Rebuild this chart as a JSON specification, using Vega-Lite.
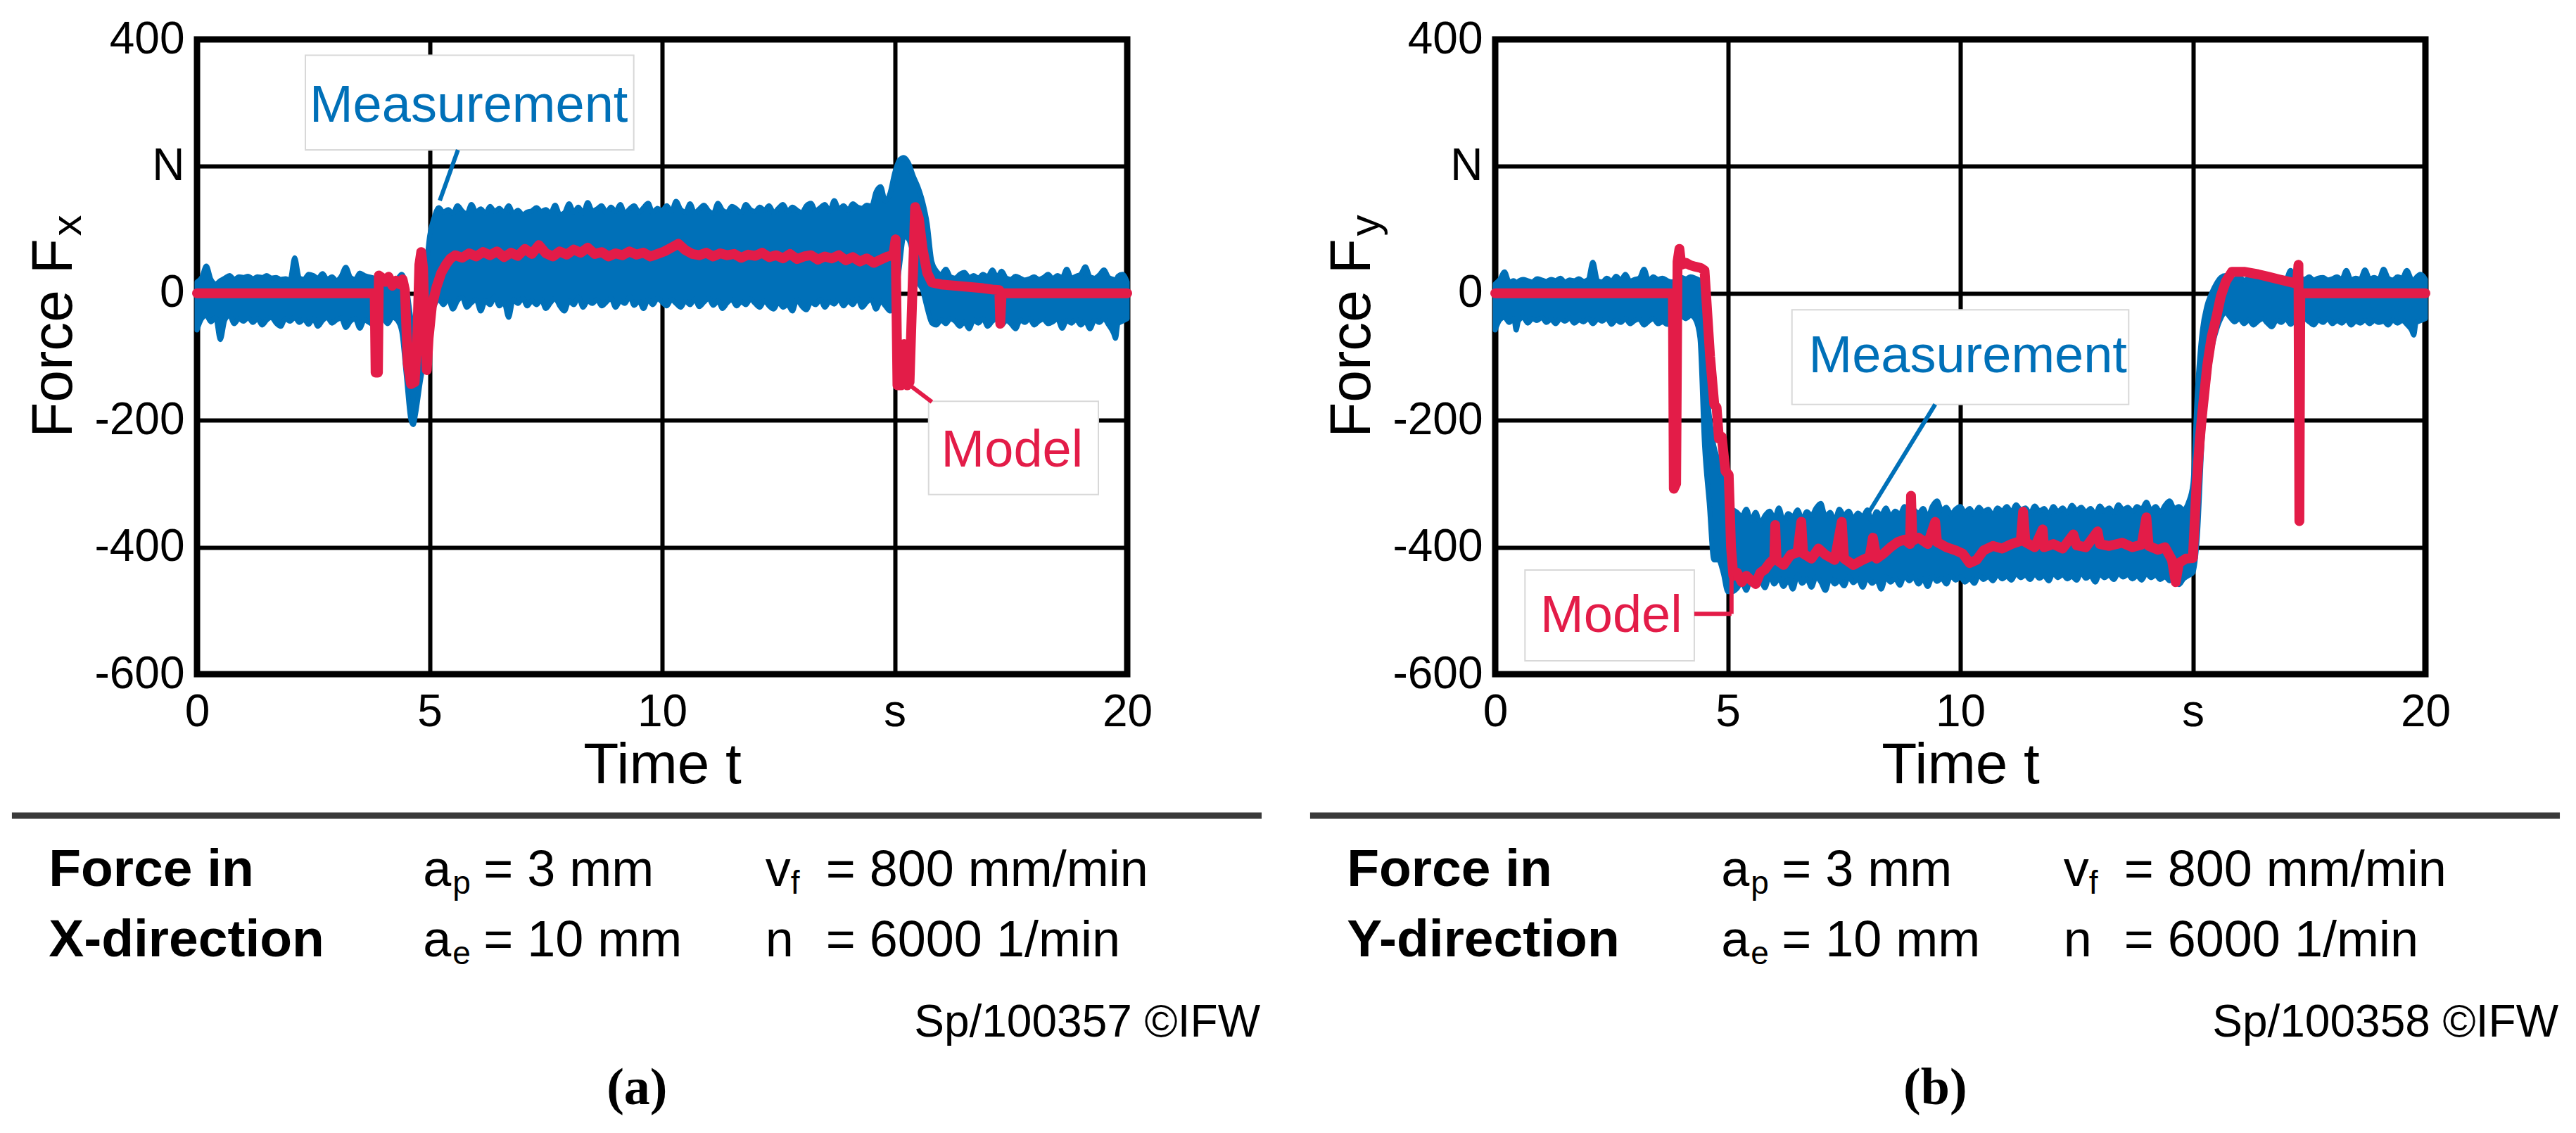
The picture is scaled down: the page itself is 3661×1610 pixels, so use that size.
{
  "$schema": "https://vega.github.io/schema/vega-lite/v6.json",
  "background": "white",
  "padding": {"left": 12, "top": 19, "right": 20, "bottom": 10},
  "config": {
    "font": "Liberation Sans",
    "view": {"stroke": "black", "strokeWidth": 9},
    "axis": {
      "grid": true, "gridColor": "black", "gridWidth": 6, "gridOpacity": 1,
      "domain": false, "ticks": false,
      "labelFont": "Liberation Sans", "labelFontSize": 64, "labelColor": "black",
      "labelFlush": false, "labelOverlap": false,
      "titleFont": "Liberation Sans", "titleFontSize": 82, "titleFontWeight": "normal", "titleColor": "black"
    }
  },
  "datasets": {
    "fxMeas": [
      {"t":0.0,"lo":-58,"hi":18},{"t":0.1,"lo":-40,"hi":25},{"t":0.2,"lo":-35,"hi":43},{"t":0.3,"lo":-45,"hi":22},{"t":0.4,"lo":-38,"hi":15},
      {"t":0.5,"lo":-73,"hi":20},{"t":0.6,"lo":-42,"hi":24},{"t":0.7,"lo":-35,"hi":28},{"t":0.8,"lo":-48,"hi":22},{"t":0.9,"lo":-40,"hi":26},
      {"t":1.0,"lo":-44,"hi":25},{"t":1.1,"lo":-38,"hi":27},{"t":1.2,"lo":-46,"hi":23},{"t":1.3,"lo":-40,"hi":26},{"t":1.4,"lo":-50,"hi":25},
      {"t":1.5,"lo":-42,"hi":28},{"t":1.6,"lo":-38,"hi":24},{"t":1.7,"lo":-47,"hi":25},{"t":1.8,"lo":-52,"hi":22},{"t":1.9,"lo":-40,"hi":23},
      {"t":2.0,"lo":-44,"hi":21},{"t":2.1,"lo":-38,"hi":56},{"t":2.2,"lo":-46,"hi":24},{"t":2.3,"lo":-41,"hi":22},{"t":2.4,"lo":-49,"hi":30},
      {"t":2.5,"lo":-40,"hi":28},{"t":2.6,"lo":-52,"hi":24},{"t":2.7,"lo":-43,"hi":31},{"t":2.8,"lo":-38,"hi":22},{"t":2.9,"lo":-47,"hi":26},
      {"t":3.0,"lo":-42,"hi":20},{"t":3.1,"lo":-39,"hi":27},{"t":3.2,"lo":-54,"hi":41},{"t":3.3,"lo":-44,"hi":25},{"t":3.4,"lo":-40,"hi":22},
      {"t":3.5,"lo":-55,"hi":32},{"t":3.6,"lo":-42,"hi":28},{"t":3.7,"lo":-46,"hi":26},{"t":3.8,"lo":-50,"hi":24},{"t":3.9,"lo":-44,"hi":22},
      {"t":4.0,"lo":-40,"hi":20},{"t":4.1,"lo":-48,"hi":24},{"t":4.2,"lo":-38,"hi":20},{"t":4.3,"lo":-42,"hi":22},{"t":4.4,"lo":-60,"hi":30},
      {"t":4.5,"lo":-130,"hi":10},{"t":4.6,"lo":-200,"hi":-40},{"t":4.65,"lo":-207,"hi":-60},{"t":4.7,"lo":-190,"hi":-60},{"t":4.8,"lo":-140,"hi":-20},
      {"t":4.9,"lo":-100,"hi":20},{"t":5.0,"lo":-60,"hi":90},{"t":5.1,"lo":-20,"hi":120},{"t":5.2,"lo":-10,"hi":135},{"t":5.3,"lo":-18,"hi":128},
      {"t":5.4,"lo":-8,"hi":132},{"t":5.5,"lo":-25,"hi":126},{"t":5.6,"lo":-12,"hi":138},{"t":5.7,"lo":-6,"hi":130},{"t":5.8,"lo":-22,"hi":125},
      {"t":5.9,"lo":-15,"hi":140},{"t":6.0,"lo":-10,"hi":128},{"t":6.1,"lo":-28,"hi":133},{"t":6.2,"lo":-12,"hi":126},{"t":6.3,"lo":-18,"hi":137},
      {"t":6.4,"lo":-5,"hi":129},{"t":6.5,"lo":-20,"hi":134},{"t":6.6,"lo":-14,"hi":127},{"t":6.7,"lo":-38,"hi":138},{"t":6.8,"lo":-10,"hi":126},
      {"t":6.9,"lo":-16,"hi":131},{"t":7.0,"lo":-8,"hi":124},{"t":7.1,"lo":-20,"hi":128},{"t":7.2,"lo":-12,"hi":130},{"t":7.3,"lo":-18,"hi":135},
      {"t":7.4,"lo":-10,"hi":129},{"t":7.5,"lo":-24,"hi":132},{"t":7.6,"lo":-15,"hi":126},{"t":7.7,"lo":-8,"hi":139},{"t":7.8,"lo":-20,"hi":124},
      {"t":7.9,"lo":-28,"hi":127},{"t":8.0,"lo":-12,"hi":141},{"t":8.1,"lo":-18,"hi":128},{"t":8.2,"lo":-6,"hi":136},{"t":8.3,"lo":-22,"hi":126},
      {"t":8.4,"lo":-12,"hi":143},{"t":8.5,"lo":-16,"hi":130},{"t":8.6,"lo":-10,"hi":133},{"t":8.7,"lo":-20,"hi":138},{"t":8.8,"lo":-14,"hi":127},
      {"t":8.9,"lo":-8,"hi":136},{"t":9.0,"lo":-22,"hi":129},{"t":9.1,"lo":-12,"hi":140},{"t":9.2,"lo":-16,"hi":126},{"t":9.3,"lo":-5,"hi":133},
      {"t":9.4,"lo":-19,"hi":138},{"t":9.5,"lo":-12,"hi":128},{"t":9.6,"lo":-24,"hi":135},{"t":9.7,"lo":-10,"hi":142},{"t":9.8,"lo":-18,"hi":127},
      {"t":9.9,"lo":-8,"hi":134},{"t":10.0,"lo":-14,"hi":130},{"t":10.1,"lo":-20,"hi":138},{"t":10.2,"lo":-10,"hi":129},{"t":10.3,"lo":-16,"hi":145},
      {"t":10.4,"lo":-22,"hi":132},{"t":10.5,"lo":-12,"hi":128},{"t":10.6,"lo":-18,"hi":141},{"t":10.7,"lo":-9,"hi":127},{"t":10.8,"lo":-21,"hi":133},
      {"t":10.9,"lo":-14,"hi":139},{"t":11.0,"lo":-8,"hi":130},{"t":11.1,"lo":-19,"hi":126},{"t":11.2,"lo":-12,"hi":142},{"t":11.3,"lo":-24,"hi":131},
      {"t":11.4,"lo":-15,"hi":128},{"t":11.5,"lo":-10,"hi":137},{"t":11.6,"lo":-20,"hi":133},{"t":11.7,"lo":-13,"hi":127},{"t":11.8,"lo":-18,"hi":140},
      {"t":11.9,"lo":-9,"hi":132},{"t":12.0,"lo":-16,"hi":129},{"t":12.1,"lo":-22,"hi":136},{"t":12.2,"lo":-12,"hi":131},{"t":12.3,"lo":-20,"hi":138},
      {"t":12.4,"lo":-25,"hi":127},{"t":12.5,"lo":-14,"hi":134},{"t":12.6,"lo":-22,"hi":140},{"t":12.7,"lo":-18,"hi":129},{"t":12.8,"lo":-28,"hi":136},
      {"t":12.9,"lo":-10,"hi":131},{"t":13.0,"lo":-20,"hi":127},{"t":13.1,"lo":-26,"hi":138},{"t":13.2,"lo":-14,"hi":142},{"t":13.3,"lo":-18,"hi":130},
      {"t":13.4,"lo":-10,"hi":135},{"t":13.5,"lo":-22,"hi":140},{"t":13.6,"lo":-13,"hi":129},{"t":13.7,"lo":-17,"hi":146},{"t":13.8,"lo":-9,"hi":133},
      {"t":13.9,"lo":-20,"hi":138},{"t":14.0,"lo":-12,"hi":131},{"t":14.1,"lo":-18,"hi":141},{"t":14.2,"lo":-8,"hi":136},{"t":14.3,"lo":-22,"hi":134},
      {"t":14.4,"lo":-14,"hi":139},{"t":14.5,"lo":-10,"hi":137},{"t":14.6,"lo":-25,"hi":160},{"t":14.7,"lo":-12,"hi":168},{"t":14.8,"lo":-20,"hi":145},
      {"t":14.9,"lo":-28,"hi":158},{"t":15.0,"lo":-15,"hi":190},{"t":15.1,"lo":40,"hi":210},{"t":15.2,"lo":90,"hi":214},{"t":15.3,"lo":85,"hi":205},
      {"t":15.4,"lo":60,"hi":185},{"t":15.5,"lo":20,"hi":168},{"t":15.6,"lo":5,"hi":145},{"t":15.7,"lo":-24,"hi":110},{"t":15.8,"lo":-47,"hi":50},
      {"t":15.9,"lo":-50,"hi":35},{"t":16.0,"lo":-42,"hi":30},{"t":16.1,"lo":-48,"hi":38},{"t":16.2,"lo":-40,"hi":26},{"t":16.3,"lo":-44,"hi":24},
      {"t":16.4,"lo":-52,"hi":30},{"t":16.5,"lo":-45,"hi":33},{"t":16.6,"lo":-56,"hi":25},{"t":16.7,"lo":-42,"hi":28},{"t":16.8,"lo":-47,"hi":24},
      {"t":16.9,"lo":-40,"hi":30},{"t":17.0,"lo":-52,"hi":26},{"t":17.1,"lo":-44,"hi":37},{"t":17.2,"lo":-40,"hi":25},{"t":17.3,"lo":-50,"hi":35},
      {"t":17.4,"lo":-43,"hi":24},{"t":17.5,"lo":-48,"hi":22},{"t":17.6,"lo":-56,"hi":27},{"t":17.7,"lo":-42,"hi":24},{"t":17.8,"lo":-46,"hi":21},
      {"t":17.9,"lo":-40,"hi":23},{"t":18.0,"lo":-50,"hi":26},{"t":18.1,"lo":-44,"hi":22},{"t":18.2,"lo":-41,"hi":25},{"t":18.3,"lo":-48,"hi":30},
      {"t":18.4,"lo":-45,"hi":23},{"t":18.5,"lo":-40,"hi":28},{"t":18.6,"lo":-55,"hi":25},{"t":18.7,"lo":-43,"hi":38},{"t":18.8,"lo":-47,"hi":24},
      {"t":18.9,"lo":-41,"hi":27},{"t":19.0,"lo":-50,"hi":30},{"t":19.1,"lo":-44,"hi":42},{"t":19.2,"lo":-56,"hi":26},{"t":19.3,"lo":-42,"hi":24},
      {"t":19.4,"lo":-46,"hi":29},{"t":19.5,"lo":-40,"hi":37},{"t":19.6,"lo":-50,"hi":25},{"t":19.7,"lo":-62,"hi":22},{"t":19.75,"lo":-71,"hi":20},
      {"t":19.8,"lo":-48,"hi":27},{"t":19.9,"lo":-44,"hi":30},{"t":20.0,"lo":-40,"hi":18}
    ],
    "fxModel": [
      {"t":0,"f":0},{"t":3.82,"f":0},{"t":3.84,"f":-125},{"t":3.89,"f":-125},{"t":3.91,"f":28},{"t":3.97,"f":25},{"t":4.05,"f":18},
      {"t":4.12,"f":26},{"t":4.2,"f":12},{"t":4.28,"f":20},{"t":4.36,"f":14},{"t":4.42,"f":22},{"t":4.47,"f":5},{"t":4.53,"f":-110},
      {"t":4.6,"f":-143},{"t":4.68,"f":-140},{"t":4.74,"f":-60},{"t":4.78,"f":45},{"t":4.82,"f":65},{"t":4.86,"f":40},{"t":4.9,"f":-60},
      {"t":4.94,"f":-121},{"t":4.98,"f":-70},{"t":5.05,"f":-20},{"t":5.15,"f":10},{"t":5.25,"f":32},{"t":5.35,"f":45},{"t":5.45,"f":55},
      {"t":5.55,"f":60},{"t":5.7,"f":56},{"t":5.85,"f":63},{"t":6.0,"f":58},{"t":6.15,"f":65},{"t":6.3,"f":60},{"t":6.45,"f":66},
      {"t":6.6,"f":57},{"t":6.75,"f":64},{"t":6.9,"f":59},{"t":7.05,"f":70},{"t":7.2,"f":62},{"t":7.35,"f":76},{"t":7.5,"f":63},
      {"t":7.65,"f":58},{"t":7.8,"f":66},{"t":7.95,"f":61},{"t":8.1,"f":69},{"t":8.25,"f":64},{"t":8.4,"f":72},{"t":8.55,"f":62},
      {"t":8.7,"f":65},{"t":8.85,"f":58},{"t":9.0,"f":63},{"t":9.15,"f":60},{"t":9.3,"f":66},{"t":9.45,"f":61},{"t":9.6,"f":64},
      {"t":9.75,"f":58},{"t":9.9,"f":62},{"t":10.05,"f":66},{"t":10.2,"f":72},{"t":10.35,"f":78},{"t":10.5,"f":68},{"t":10.65,"f":62},
      {"t":10.8,"f":60},{"t":10.95,"f":64},{"t":11.1,"f":58},{"t":11.25,"f":63},{"t":11.4,"f":60},{"t":11.55,"f":62},{"t":11.7,"f":56},
      {"t":11.85,"f":61},{"t":12.0,"f":59},{"t":12.15,"f":64},{"t":12.3,"f":57},{"t":12.45,"f":60},{"t":12.6,"f":55},{"t":12.75,"f":62},
      {"t":12.9,"f":54},{"t":13.05,"f":58},{"t":13.2,"f":60},{"t":13.35,"f":53},{"t":13.5,"f":58},{"t":13.65,"f":55},{"t":13.8,"f":60},
      {"t":13.95,"f":52},{"t":14.1,"f":57},{"t":14.25,"f":50},{"t":14.4,"f":55},{"t":14.55,"f":48},{"t":14.7,"f":53},{"t":14.85,"f":58},
      {"t":14.97,"f":60},{"t":15.02,"f":85},{"t":15.06,"f":-145},{"t":15.14,"f":-145},{"t":15.2,"f":-80},{"t":15.27,"f":-145},
      {"t":15.32,"f":-140},{"t":15.44,"f":136},{"t":15.52,"f":118},{"t":15.6,"f":70},{"t":15.7,"f":32},{"t":15.8,"f":17},{"t":16.0,"f":14},
      {"t":16.3,"f":12},{"t":16.6,"f":10},{"t":16.9,"f":8},{"t":17.1,"f":6},{"t":17.25,"f":5},{"t":17.27,"f":-48},{"t":17.3,"f":0},{"t":20,"f":0}
    ],
    "fxNotes": [
      {"series":"Measurement","t1":2.33,"t2":9.39,"f1":226,"f2":375,"tx":2.42,"fy":270},
      {"series":"Model","t1":15.73,"t2":19.38,"f1":-317,"f2":-170,"tx":16.0,"fy":-273}
    ],
    "fxLeaders": [
      {"series":"Measurement","t1":5.61,"f1":226,"t2":5.22,"f2":146},
      {"series":"Model","t1":15.31,"f1":-144,"t2":15.8,"f2":-171}
    ],
    "fyMeas": [
      {"t":0.0,"lo":-58,"hi":15},{"t":0.1,"lo":-42,"hi":22},{"t":0.2,"lo":-38,"hi":34},{"t":0.3,"lo":-46,"hi":18},{"t":0.4,"lo":-40,"hi":20},
      {"t":0.45,"lo":-58,"hi":16},{"t":0.5,"lo":-44,"hi":19},{"t":0.6,"lo":-38,"hi":22},{"t":0.7,"lo":-47,"hi":20},{"t":0.8,"lo":-40,"hi":18},
      {"t":0.9,"lo":-43,"hi":23},{"t":1.0,"lo":-38,"hi":21},{"t":1.1,"lo":-46,"hi":19},{"t":1.2,"lo":-41,"hi":22},{"t":1.3,"lo":-48,"hi":20},
      {"t":1.4,"lo":-40,"hi":24},{"t":1.5,"lo":-44,"hi":18},{"t":1.6,"lo":-39,"hi":21},{"t":1.7,"lo":-47,"hi":20},{"t":1.8,"lo":-42,"hi":23},
      {"t":1.9,"lo":-45,"hi":19},{"t":2.0,"lo":-40,"hi":22},{"t":2.1,"lo":-48,"hi":49},{"t":2.2,"lo":-41,"hi":20},{"t":2.3,"lo":-44,"hi":18},
      {"t":2.4,"lo":-39,"hi":24},{"t":2.5,"lo":-49,"hi":19},{"t":2.6,"lo":-42,"hi":27},{"t":2.7,"lo":-46,"hi":21},{"t":2.8,"lo":-40,"hi":30},
      {"t":2.9,"lo":-48,"hi":19},{"t":3.0,"lo":-43,"hi":22},{"t":3.1,"lo":-41,"hi":24},{"t":3.2,"lo":-50,"hi":38},{"t":3.3,"lo":-44,"hi":20},
      {"t":3.4,"lo":-40,"hi":26},{"t":3.5,"lo":-48,"hi":22},{"t":3.6,"lo":-45,"hi":24},{"t":3.7,"lo":-49,"hi":20},{"t":3.8,"lo":-42,"hi":18},
      {"t":3.9,"lo":-38,"hi":22},{"t":4.0,"lo":-36,"hi":25},{"t":4.1,"lo":-40,"hi":23},{"t":4.2,"lo":-35,"hi":26},{"t":4.3,"lo":-41,"hi":24},
      {"t":4.4,"lo":-70,"hi":20},{"t":4.5,"lo":-240,"hi":-110},{"t":4.6,"lo":-330,"hi":-190},{"t":4.7,"lo":-420,"hi":-240},{"t":4.8,"lo":-420,"hi":-265},
      {"t":4.9,"lo":-440,"hi":-300},{"t":5.0,"lo":-470,"hi":-330},{"t":5.1,"lo":-470,"hi":-340},{"t":5.2,"lo":-465,"hi":-345},{"t":5.3,"lo":-455,"hi":-352},
      {"t":5.4,"lo":-468,"hi":-340},{"t":5.5,"lo":-447,"hi":-358},{"t":5.6,"lo":-460,"hi":-345},{"t":5.7,"lo":-452,"hi":-362},{"t":5.8,"lo":-464,"hi":-350},
      {"t":5.9,"lo":-445,"hi":-343},{"t":6.0,"lo":-458,"hi":-355},{"t":6.1,"lo":-449,"hi":-338},{"t":6.2,"lo":-462,"hi":-360},{"t":6.3,"lo":-451,"hi":-347},
      {"t":6.4,"lo":-466,"hi":-352},{"t":6.5,"lo":-444,"hi":-341},{"t":6.6,"lo":-457,"hi":-356},{"t":6.7,"lo":-450,"hi":-344},{"t":6.8,"lo":-463,"hi":-350},
      {"t":6.9,"lo":-447,"hi":-338},{"t":7.0,"lo":-455,"hi":-331},{"t":7.1,"lo":-468,"hi":-352},{"t":7.2,"lo":-449,"hi":-345},{"t":7.3,"lo":-458,"hi":-358},
      {"t":7.4,"lo":-452,"hi":-340},{"t":7.5,"lo":-461,"hi":-350},{"t":7.6,"lo":-446,"hi":-343},{"t":7.7,"lo":-456,"hi":-355},{"t":7.8,"lo":-450,"hi":-346},
      {"t":7.9,"lo":-463,"hi":-352},{"t":8.0,"lo":-448,"hi":-341},{"t":8.1,"lo":-457,"hi":-359},{"t":8.2,"lo":-452,"hi":-344},{"t":8.3,"lo":-466,"hi":-349},
      {"t":8.4,"lo":-447,"hi":-338},{"t":8.5,"lo":-455,"hi":-352},{"t":8.6,"lo":-449,"hi":-343},{"t":8.7,"lo":-460,"hi":-348},{"t":8.8,"lo":-445,"hi":-336},
      {"t":8.9,"lo":-453,"hi":-350},{"t":9.0,"lo":-447,"hi":-341},{"t":9.1,"lo":-458,"hi":-347},{"t":9.2,"lo":-450,"hi":-339},{"t":9.3,"lo":-462,"hi":-352},
      {"t":9.4,"lo":-446,"hi":-335},{"t":9.5,"lo":-454,"hi":-327},{"t":9.6,"lo":-449,"hi":-342},{"t":9.7,"lo":-458,"hi":-337},{"t":9.8,"lo":-445,"hi":-348},
      {"t":9.9,"lo":-452,"hi":-340},{"t":10.0,"lo":-447,"hi":-336},{"t":10.1,"lo":-455,"hi":-345},{"t":10.2,"lo":-449,"hi":-339},{"t":10.3,"lo":-457,"hi":-348},
      {"t":10.4,"lo":-444,"hi":-337},{"t":10.5,"lo":-451,"hi":-344},{"t":10.6,"lo":-446,"hi":-340},{"t":10.7,"lo":-453,"hi":-350},{"t":10.8,"lo":-443,"hi":-338},
      {"t":10.9,"lo":-450,"hi":-343},{"t":11.0,"lo":-446,"hi":-336},{"t":11.1,"lo":-452,"hi":-345},{"t":11.2,"lo":-441,"hi":-333},{"t":11.3,"lo":-448,"hi":-341},
      {"t":11.4,"lo":-444,"hi":-338},{"t":11.5,"lo":-451,"hi":-347},{"t":11.6,"lo":-442,"hi":-335},{"t":11.7,"lo":-449,"hi":-343},{"t":11.8,"lo":-445,"hi":-339},
      {"t":11.9,"lo":-453,"hi":-348},{"t":12.0,"lo":-441,"hi":-336},{"t":12.1,"lo":-448,"hi":-344},{"t":12.2,"lo":-443,"hi":-338},{"t":12.3,"lo":-450,"hi":-346},
      {"t":12.4,"lo":-446,"hi":-334},{"t":12.5,"lo":-452,"hi":-342},{"t":12.6,"lo":-440,"hi":-337},{"t":12.7,"lo":-449,"hi":-345},{"t":12.8,"lo":-445,"hi":-339},
      {"t":12.9,"lo":-455,"hi":-348},{"t":13.0,"lo":-442,"hi":-335},{"t":13.1,"lo":-448,"hi":-343},{"t":13.2,"lo":-444,"hi":-338},{"t":13.3,"lo":-451,"hi":-346},
      {"t":13.4,"lo":-441,"hi":-333},{"t":13.5,"lo":-447,"hi":-341},{"t":13.6,"lo":-443,"hi":-337},{"t":13.7,"lo":-450,"hi":-344},{"t":13.8,"lo":-445,"hi":-336},
      {"t":13.9,"lo":-452,"hi":-340},{"t":14.0,"lo":-441,"hi":-329},{"t":14.1,"lo":-448,"hi":-342},{"t":14.2,"lo":-444,"hi":-336},{"t":14.3,"lo":-451,"hi":-345},
      {"t":14.4,"lo":-446,"hi":-334},{"t":14.5,"lo":-453,"hi":-327},{"t":14.6,"lo":-449,"hi":-339},{"t":14.7,"lo":-459,"hi":-336},{"t":14.8,"lo":-450,"hi":-341},
      {"t":14.9,"lo":-445,"hi":-330},{"t":15.0,"lo":-440,"hi":-300},{"t":15.1,"lo":-380,"hi":-150},{"t":15.2,"lo":-230,"hi":-60},{"t":15.3,"lo":-150,"hi":-20},
      {"t":15.4,"lo":-90,"hi":0},{"t":15.5,"lo":-60,"hi":15},{"t":15.6,"lo":-40,"hi":25},{"t":15.7,"lo":-30,"hi":28},{"t":15.8,"lo":-38,"hi":24},
      {"t":15.9,"lo":-45,"hi":22},{"t":16.0,"lo":-40,"hi":26},{"t":16.1,"lo":-48,"hi":20},{"t":16.2,"lo":-42,"hi":24},{"t":16.3,"lo":-50,"hi":22},
      {"t":16.4,"lo":-44,"hi":25},{"t":16.5,"lo":-40,"hi":21},{"t":16.6,"lo":-47,"hi":23},{"t":16.7,"lo":-53,"hi":26},{"t":16.8,"lo":-42,"hi":20},
      {"t":16.9,"lo":-46,"hi":24},{"t":17.0,"lo":-40,"hi":22},{"t":17.1,"lo":-49,"hi":36},{"t":17.2,"lo":-43,"hi":20},{"t":17.3,"lo":-47,"hi":24},
      {"t":17.4,"lo":-40,"hi":22},{"t":17.5,"lo":-45,"hi":26},{"t":17.6,"lo":-50,"hi":21},{"t":17.7,"lo":-42,"hi":24},{"t":17.8,"lo":-46,"hi":25},
      {"t":17.9,"lo":-40,"hi":21},{"t":18.0,"lo":-48,"hi":23},{"t":18.1,"lo":-43,"hi":26},{"t":18.2,"lo":-47,"hi":22},{"t":18.3,"lo":-41,"hi":36},
      {"t":18.4,"lo":-50,"hi":21},{"t":18.5,"lo":-44,"hi":24},{"t":18.6,"lo":-47,"hi":22},{"t":18.7,"lo":-42,"hi":37},{"t":18.8,"lo":-48,"hi":23},
      {"t":18.9,"lo":-43,"hi":25},{"t":19.0,"lo":-46,"hi":22},{"t":19.1,"lo":-44,"hi":38},{"t":19.2,"lo":-50,"hi":24},{"t":19.3,"lo":-42,"hi":21},
      {"t":19.4,"lo":-47,"hi":26},{"t":19.5,"lo":-43,"hi":24},{"t":19.6,"lo":-49,"hi":36},{"t":19.7,"lo":-58,"hi":22},{"t":19.75,"lo":-66,"hi":20},
      {"t":19.8,"lo":-46,"hi":25},{"t":19.9,"lo":-43,"hi":30},{"t":20.0,"lo":-40,"hi":22}
    ],
    "fyModel": [
      {"t":0,"f":0},{"t":3.82,"f":0},{"t":3.84,"f":-308},{"t":3.89,"f":-300},{"t":3.92,"f":50},{"t":3.96,"f":70},{"t":4.0,"f":45},
      {"t":4.1,"f":48},{"t":4.2,"f":44},{"t":4.3,"f":42},{"t":4.42,"f":40},{"t":4.5,"f":36},{"t":4.62,"f":-100},{"t":4.71,"f":-175},
      {"t":4.76,"f":-180},{"t":4.81,"f":-229},{"t":4.87,"f":-226},{"t":4.95,"f":-280},{"t":5.02,"f":-286},{"t":5.07,"f":-400},{"t":5.12,"f":-445},
      {"t":5.2,"f":-440},{"t":5.3,"f":-455},{"t":5.4,"f":-445},{"t":5.5,"f":-452},{"t":5.6,"f":-458},{"t":5.7,"f":-440},{"t":5.8,"f":-435},
      {"t":5.9,"f":-425},{"t":6.0,"f":-418},{"t":6.02,"f":-365},{"t":6.05,"f":-420},{"t":6.2,"f":-428},{"t":6.35,"f":-412},{"t":6.5,"f":-408},
      {"t":6.58,"f":-360},{"t":6.62,"f":-410},{"t":6.8,"f":-418},{"t":6.95,"f":-402},{"t":7.1,"f":-412},{"t":7.3,"f":-420},{"t":7.45,"f":-360},
      {"t":7.5,"f":-418},{"t":7.7,"f":-428},{"t":7.9,"f":-420},{"t":8.05,"f":-415},{"t":8.12,"f":-385},{"t":8.2,"f":-418},{"t":8.35,"f":-410},
      {"t":8.5,"f":-400},{"t":8.65,"f":-392},{"t":8.8,"f":-388},{"t":8.92,"f":-395},{"t":8.94,"f":-319},{"t":8.97,"f":-390},{"t":9.1,"f":-385},
      {"t":9.3,"f":-395},{"t":9.46,"f":-360},{"t":9.5,"f":-392},{"t":9.7,"f":-400},{"t":9.9,"f":-405},{"t":10.05,"f":-410},{"t":10.2,"f":-425},
      {"t":10.35,"f":-420},{"t":10.5,"f":-405},{"t":10.7,"f":-398},{"t":10.9,"f":-402},{"t":11.1,"f":-395},{"t":11.3,"f":-390},{"t":11.35,"f":-344},
      {"t":11.4,"f":-392},{"t":11.6,"f":-400},{"t":11.77,"f":-372},{"t":11.8,"f":-400},{"t":12.0,"f":-395},{"t":12.2,"f":-402},{"t":12.43,"f":-380},
      {"t":12.5,"f":-397},{"t":12.7,"f":-400},{"t":12.95,"f":-375},{"t":13.0,"f":-395},{"t":13.2,"f":-398},{"t":13.48,"f":-393},{"t":13.7,"f":-400},
      {"t":13.9,"f":-396},{"t":14.0,"f":-353},{"t":14.05,"f":-398},{"t":14.25,"f":-404},{"t":14.4,"f":-400},{"t":14.55,"f":-420},{"t":14.63,"f":-455},
      {"t":14.7,"f":-425},{"t":14.85,"f":-418},{"t":15.0,"f":-417},{"t":15.08,"f":-300},{"t":15.15,"f":-230},{"t":15.2,"f":-190},{"t":15.31,"f":-113},
      {"t":15.4,"f":-70},{"t":15.51,"f":-36},{"t":15.6,"f":-5},{"t":15.71,"f":19},{"t":15.84,"f":34},{"t":16.1,"f":34},{"t":16.4,"f":30},
      {"t":16.63,"f":26},{"t":16.85,"f":22},{"t":17.02,"f":19},{"t":17.24,"f":15},{"t":17.27,"f":45},{"t":17.29,"f":-359},{"t":17.31,"f":0},{"t":20,"f":0}
    ],
    "fyNotes": [
      {"series":"Measurement","t1":6.38,"t2":13.62,"f1":-175,"f2":-26,"tx":6.74,"fy":-124},
      {"series":"Model","t1":0.64,"t2":4.28,"f1":-579,"f2":-436,"tx":0.97,"fy":-533}
    ],
    "fyLeaders": [
      {"series":"Measurement","t1":9.46,"f1":-175,"t2":7.95,"f2":-355},
      {"series":"Model","t1":4.28,"f1":-505,"t2":5.08,"f2":-505},
      {"series":"Model","t1":5.08,"f1":-505,"t2":5.08,"f2":-445}
    ],
    "infoX": [
      {"line":1,"label":"Force in","sym1":"a","sub1":"p","val1":"= 3 mm","sym2":"v","sub2":"f","val2":"= 800 mm/min"},
      {"line":2,"label":"X-direction","sym1":"a","sub1":"e","val1":"= 10 mm","sym2":"n","sub2":"","val2":"= 6000 1/min"},
      {"line":3,"credit":"Sp/100357 ©IFW"},
      {"line":4,"caption":"(a)"}
    ],
    "infoY": [
      {"line":1,"label":"Force in","sym1":"a","sub1":"p","val1":"= 3 mm","sym2":"v","sub2":"f","val2":"= 800 mm/min"},
      {"line":2,"label":"Y-direction","sym1":"a","sub1":"e","val1":"= 10 mm","sym2":"n","sub2":"","val2":"= 6000 1/min"},
      {"line":3,"credit":"Sp/100358 ©IFW"},
      {"line":4,"caption":"(b)"}
    ]
  },
  "spacing": 59,
  "hconcat": [
    {
      "spacing": 21,
      "vconcat": [
        {
          "width": 1322,
          "height": 902,
          "layer": [
            {
              "data": {"name": "fxMeas"},
              "mark": {"type": "area", "color": "#0070b8", "stroke": "#0070b8", "strokeWidth": 7, "strokeJoin": "round", "interpolate": "monotone"},
              "encoding": {
                "x": {"field": "t", "type": "quantitative", "scale": {"domain": [0, 20], "nice": false, "zero": false},
                  "axis": {"title": "Time t", "values": [0, 5, 10, 15, 20], "labelExpr": "datum.value == 15 ? 's' : '' + datum.value", "labelPadding": 22, "titleY": 154, "titleBaseline": "alphabetic"}},
                "y": {"field": "lo", "type": "quantitative", "scale": {"domain": [-600, 400], "nice": false, "zero": false},
                  "axis": {"title": "Force F", "values": [-600, -400, -200, 0, 200, 400], "labelExpr": "datum.value == 200 ? 'N' : '' + datum.value", "labelPadding": 18, "titleX": -179, "titleY": 424, "titleAlign": "center", "titleBaseline": "alphabetic", "titleAngle": 270}},
                "y2": {"field": "hi"}
              }
            },
            {
              "data": {"name": "fxModel"},
              "mark": {"type": "line", "color": "#e31c48", "strokeWidth": 14, "strokeJoin": "round", "strokeCap": "round"},
              "encoding": {"x": {"field": "t", "type": "quantitative"}, "y": {"field": "f", "type": "quantitative"}}
            },
            {
              "data": {"name": "fxNotes"},
              "mark": {"type": "rect", "fill": "white", "stroke": "#d8d8d8", "strokeWidth": 2},
              "encoding": {"x": {"field": "t1", "type": "quantitative"}, "x2": {"field": "t2"}, "y": {"field": "f1", "type": "quantitative"}, "y2": {"field": "f2"}}
            },
            {
              "data": {"name": "fxLeaders"},
              "mark": {"type": "rule", "strokeWidth": 6},
              "encoding": {
                "x": {"field": "t1", "type": "quantitative"}, "x2": {"field": "t2"},
                "y": {"field": "f1", "type": "quantitative"}, "y2": {"field": "f2"},
                "color": {"field": "series", "type": "nominal", "scale": {"domain": ["Measurement", "Model"], "range": ["#0070b8", "#e31c48"]}, "legend": null}
              }
            },
            {
              "data": {"name": "fxNotes"},
              "mark": {"type": "text", "fontSize": 74, "align": "left", "baseline": "alphabetic"},
              "encoding": {
                "x": {"field": "tx", "type": "quantitative"}, "y": {"field": "fy", "type": "quantitative"},
                "text": {"field": "series"},
                "color": {"field": "series", "type": "nominal", "scale": {"domain": ["Measurement", "Model"], "range": ["#0070b8", "#e31c48"]}, "legend": null}
              }
            },
            {
              "data": {"values": [{"sub": "x"}]},
              "mark": {"type": "text", "fontSize": 60, "angle": 270, "align": "left", "baseline": "alphabetic", "color": "black"},
              "encoding": {"x": {"datum": -2.5, "type": "quantitative"}, "y": {"datum": 90, "type": "quantitative"}, "text": {"field": "sub"}}
            }
          ]
        },
        {
          "width": 1322,
          "height": 400,
          "view": {"stroke": null},
          "data": {"name": "infoX"},
          "layer": [
            {
              "transform": [{"filter": "datum.line == 1"}],
              "mark": {"type": "rule", "color": "#3a3a3a", "strokeWidth": 9},
              "encoding": {
                "x": {"datum": -3.98, "type": "quantitative", "scale": {"domain": [0, 20], "nice": false, "zero": false}, "axis": null},
                "x2": {"datum": 22.89},
                "y": {"datum": 0, "type": "quantitative", "scale": {"domain": [0, 4], "reverse": true, "nice": false, "zero": false}, "axis": null}
              }
            },
            {
              "transform": [{"filter": "isValid(datum.label)"}],
              "mark": {"type": "text", "fontSize": 75, "fontWeight": "bold", "align": "left", "baseline": "alphabetic", "color": "black"},
              "encoding": {
                "x": {"datum": -3.19, "type": "quantitative", "scale": {"domain": [0, 20], "nice": false, "zero": false}, "axis": null},
                "y": {"field": "line", "type": "quantitative", "scale": {"domain": [0, 4], "reverse": true, "nice": false, "zero": false}, "axis": null},
                "text": {"field": "label"}
              }
            },
            {
              "transform": [{"filter": "isValid(datum.sym1)"}],
              "mark": {"type": "text", "fontSize": 72, "align": "left", "baseline": "alphabetic", "color": "black"},
              "encoding": {
                "x": {"datum": 4.86, "type": "quantitative", "scale": {"domain": [0, 20], "nice": false, "zero": false}, "axis": null},
                "y": {"field": "line", "type": "quantitative", "scale": {"domain": [0, 4], "reverse": true, "nice": false, "zero": false}, "axis": null},
                "text": {"field": "sym1"}
              }
            },
            {
              "transform": [{"filter": "isValid(datum.sub1)"}],
              "mark": {"type": "text", "fontSize": 46, "align": "left", "baseline": "alphabetic", "dx": 42, "dy": 11, "color": "black"},
              "encoding": {
                "x": {"datum": 4.86, "type": "quantitative", "scale": {"domain": [0, 20], "nice": false, "zero": false}, "axis": null},
                "y": {"field": "line", "type": "quantitative", "scale": {"domain": [0, 4], "reverse": true, "nice": false, "zero": false}, "axis": null},
                "text": {"field": "sub1"}
              }
            },
            {
              "transform": [{"filter": "isValid(datum.val1)"}],
              "mark": {"type": "text", "fontSize": 72, "align": "left", "baseline": "alphabetic", "color": "black"},
              "encoding": {
                "x": {"datum": 6.16, "type": "quantitative", "scale": {"domain": [0, 20], "nice": false, "zero": false}, "axis": null},
                "y": {"field": "line", "type": "quantitative", "scale": {"domain": [0, 4], "reverse": true, "nice": false, "zero": false}, "axis": null},
                "text": {"field": "val1"}
              }
            },
            {
              "transform": [{"filter": "isValid(datum.sym2)"}],
              "mark": {"type": "text", "fontSize": 72, "align": "left", "baseline": "alphabetic", "color": "black"},
              "encoding": {
                "x": {"datum": 12.22, "type": "quantitative", "scale": {"domain": [0, 20], "nice": false, "zero": false}, "axis": null},
                "y": {"field": "line", "type": "quantitative", "scale": {"domain": [0, 4], "reverse": true, "nice": false, "zero": false}, "axis": null},
                "text": {"field": "sym2"}
              }
            },
            {
              "transform": [{"filter": "isValid(datum.sub2) && datum.sub2 != ''"}],
              "mark": {"type": "text", "fontSize": 46, "align": "left", "baseline": "alphabetic", "dx": 36, "dy": 11, "color": "black"},
              "encoding": {
                "x": {"datum": 12.22, "type": "quantitative", "scale": {"domain": [0, 20], "nice": false, "zero": false}, "axis": null},
                "y": {"field": "line", "type": "quantitative", "scale": {"domain": [0, 4], "reverse": true, "nice": false, "zero": false}, "axis": null},
                "text": {"field": "sub2"}
              }
            },
            {
              "transform": [{"filter": "isValid(datum.val2)"}],
              "mark": {"type": "text", "fontSize": 72, "align": "left", "baseline": "alphabetic", "color": "black"},
              "encoding": {
                "x": {"datum": 13.52, "type": "quantitative", "scale": {"domain": [0, 20], "nice": false, "zero": false}, "axis": null},
                "y": {"field": "line", "type": "quantitative", "scale": {"domain": [0, 4], "reverse": true, "nice": false, "zero": false}, "axis": null},
                "text": {"field": "val2"}
              }
            },
            {
              "transform": [{"filter": "isValid(datum.credit)"}],
              "mark": {"type": "text", "fontSize": 64, "align": "right", "baseline": "alphabetic", "dy": 14, "color": "black"},
              "encoding": {
                "x": {"datum": 22.86, "type": "quantitative", "scale": {"domain": [0, 20], "nice": false, "zero": false}, "axis": null},
                "y": {"field": "line", "type": "quantitative", "scale": {"domain": [0, 4], "reverse": true, "nice": false, "zero": false}, "axis": null},
                "text": {"field": "credit"}
              }
            },
            {
              "transform": [{"filter": "isValid(datum.caption)"}],
              "mark": {"type": "text", "font": "Liberation Serif", "fontSize": 74, "fontWeight": "bold", "align": "center", "baseline": "middle", "dy": -12, "color": "black"},
              "encoding": {
                "x": {"datum": 9.46, "type": "quantitative", "scale": {"domain": [0, 20], "nice": false, "zero": false}, "axis": null},
                "y": {"field": "line", "type": "quantitative", "scale": {"domain": [0, 4], "reverse": true, "nice": false, "zero": false}, "axis": null},
                "text": {"field": "caption"}
              }
            }
          ]
        }
      ]
    },
    {
      "spacing": 21,
      "vconcat": [
        {
          "width": 1322,
          "height": 902,
          "layer": [
            {
              "data": {"name": "fyMeas"},
              "mark": {"type": "area", "color": "#0070b8", "stroke": "#0070b8", "strokeWidth": 7, "strokeJoin": "round", "interpolate": "monotone"},
              "encoding": {
                "x": {"field": "t", "type": "quantitative", "scale": {"domain": [0, 20], "nice": false, "zero": false},
                  "axis": {"title": "Time t", "values": [0, 5, 10, 15, 20], "labelExpr": "datum.value == 15 ? 's' : '' + datum.value", "labelPadding": 22, "titleY": 154, "titleBaseline": "alphabetic"}},
                "y": {"field": "lo", "type": "quantitative", "scale": {"domain": [-600, 400], "nice": false, "zero": false},
                  "axis": {"title": "Force F", "values": [-600, -400, -200, 0, 200, 400], "labelExpr": "datum.value == 200 ? 'N' : '' + datum.value", "labelPadding": 18, "titleX": -179, "titleY": 424, "titleAlign": "center", "titleBaseline": "alphabetic", "titleAngle": 270}},
                "y2": {"field": "hi"}
              }
            },
            {
              "data": {"name": "fyModel"},
              "mark": {"type": "line", "color": "#e31c48", "strokeWidth": 14, "strokeJoin": "round", "strokeCap": "round"},
              "encoding": {"x": {"field": "t", "type": "quantitative"}, "y": {"field": "f", "type": "quantitative"}}
            },
            {
              "data": {"name": "fyNotes"},
              "mark": {"type": "rect", "fill": "white", "stroke": "#d8d8d8", "strokeWidth": 2},
              "encoding": {"x": {"field": "t1", "type": "quantitative"}, "x2": {"field": "t2"}, "y": {"field": "f1", "type": "quantitative"}, "y2": {"field": "f2"}}
            },
            {
              "data": {"name": "fyLeaders"},
              "mark": {"type": "rule", "strokeWidth": 6},
              "encoding": {
                "x": {"field": "t1", "type": "quantitative"}, "x2": {"field": "t2"},
                "y": {"field": "f1", "type": "quantitative"}, "y2": {"field": "f2"},
                "color": {"field": "series", "type": "nominal", "scale": {"domain": ["Measurement", "Model"], "range": ["#0070b8", "#e31c48"]}, "legend": null}
              }
            },
            {
              "data": {"name": "fyNotes"},
              "mark": {"type": "text", "fontSize": 74, "align": "left", "baseline": "alphabetic"},
              "encoding": {
                "x": {"field": "tx", "type": "quantitative"}, "y": {"field": "fy", "type": "quantitative"},
                "text": {"field": "series"},
                "color": {"field": "series", "type": "nominal", "scale": {"domain": ["Measurement", "Model"], "range": ["#0070b8", "#e31c48"]}, "legend": null}
              }
            },
            {
              "data": {"values": [{"sub": "y"}]},
              "mark": {"type": "text", "fontSize": 60, "angle": 270, "align": "left", "baseline": "alphabetic", "color": "black"},
              "encoding": {"x": {"datum": -2.5, "type": "quantitative"}, "y": {"datum": 90, "type": "quantitative"}, "text": {"field": "sub"}}
            }
          ]
        },
        {
          "width": 1322,
          "height": 400,
          "view": {"stroke": null},
          "data": {"name": "infoY"},
          "layer": [
            {
              "transform": [{"filter": "datum.line == 1"}],
              "mark": {"type": "rule", "color": "#3a3a3a", "strokeWidth": 9},
              "encoding": {
                "x": {"datum": -3.98, "type": "quantitative", "scale": {"domain": [0, 20], "nice": false, "zero": false}, "axis": null},
                "x2": {"datum": 22.89},
                "y": {"datum": 0, "type": "quantitative", "scale": {"domain": [0, 4], "reverse": true, "nice": false, "zero": false}, "axis": null}
              }
            },
            {
              "transform": [{"filter": "isValid(datum.label)"}],
              "mark": {"type": "text", "fontSize": 75, "fontWeight": "bold", "align": "left", "baseline": "alphabetic", "color": "black"},
              "encoding": {
                "x": {"datum": -3.19, "type": "quantitative", "scale": {"domain": [0, 20], "nice": false, "zero": false}, "axis": null},
                "y": {"field": "line", "type": "quantitative", "scale": {"domain": [0, 4], "reverse": true, "nice": false, "zero": false}, "axis": null},
                "text": {"field": "label"}
              }
            },
            {
              "transform": [{"filter": "isValid(datum.sym1)"}],
              "mark": {"type": "text", "fontSize": 72, "align": "left", "baseline": "alphabetic", "color": "black"},
              "encoding": {
                "x": {"datum": 4.86, "type": "quantitative", "scale": {"domain": [0, 20], "nice": false, "zero": false}, "axis": null},
                "y": {"field": "line", "type": "quantitative", "scale": {"domain": [0, 4], "reverse": true, "nice": false, "zero": false}, "axis": null},
                "text": {"field": "sym1"}
              }
            },
            {
              "transform": [{"filter": "isValid(datum.sub1)"}],
              "mark": {"type": "text", "fontSize": 46, "align": "left", "baseline": "alphabetic", "dx": 42, "dy": 11, "color": "black"},
              "encoding": {
                "x": {"datum": 4.86, "type": "quantitative", "scale": {"domain": [0, 20], "nice": false, "zero": false}, "axis": null},
                "y": {"field": "line", "type": "quantitative", "scale": {"domain": [0, 4], "reverse": true, "nice": false, "zero": false}, "axis": null},
                "text": {"field": "sub1"}
              }
            },
            {
              "transform": [{"filter": "isValid(datum.val1)"}],
              "mark": {"type": "text", "fontSize": 72, "align": "left", "baseline": "alphabetic", "color": "black"},
              "encoding": {
                "x": {"datum": 6.16, "type": "quantitative", "scale": {"domain": [0, 20], "nice": false, "zero": false}, "axis": null},
                "y": {"field": "line", "type": "quantitative", "scale": {"domain": [0, 4], "reverse": true, "nice": false, "zero": false}, "axis": null},
                "text": {"field": "val1"}
              }
            },
            {
              "transform": [{"filter": "isValid(datum.sym2)"}],
              "mark": {"type": "text", "fontSize": 72, "align": "left", "baseline": "alphabetic", "color": "black"},
              "encoding": {
                "x": {"datum": 12.22, "type": "quantitative", "scale": {"domain": [0, 20], "nice": false, "zero": false}, "axis": null},
                "y": {"field": "line", "type": "quantitative", "scale": {"domain": [0, 4], "reverse": true, "nice": false, "zero": false}, "axis": null},
                "text": {"field": "sym2"}
              }
            },
            {
              "transform": [{"filter": "isValid(datum.sub2) && datum.sub2 != ''"}],
              "mark": {"type": "text", "fontSize": 46, "align": "left", "baseline": "alphabetic", "dx": 36, "dy": 11, "color": "black"},
              "encoding": {
                "x": {"datum": 12.22, "type": "quantitative", "scale": {"domain": [0, 20], "nice": false, "zero": false}, "axis": null},
                "y": {"field": "line", "type": "quantitative", "scale": {"domain": [0, 4], "reverse": true, "nice": false, "zero": false}, "axis": null},
                "text": {"field": "sub2"}
              }
            },
            {
              "transform": [{"filter": "isValid(datum.val2)"}],
              "mark": {"type": "text", "fontSize": 72, "align": "left", "baseline": "alphabetic", "color": "black"},
              "encoding": {
                "x": {"datum": 13.52, "type": "quantitative", "scale": {"domain": [0, 20], "nice": false, "zero": false}, "axis": null},
                "y": {"field": "line", "type": "quantitative", "scale": {"domain": [0, 4], "reverse": true, "nice": false, "zero": false}, "axis": null},
                "text": {"field": "val2"}
              }
            },
            {
              "transform": [{"filter": "isValid(datum.credit)"}],
              "mark": {"type": "text", "fontSize": 64, "align": "right", "baseline": "alphabetic", "dy": 14, "color": "black"},
              "encoding": {
                "x": {"datum": 22.86, "type": "quantitative", "scale": {"domain": [0, 20], "nice": false, "zero": false}, "axis": null},
                "y": {"field": "line", "type": "quantitative", "scale": {"domain": [0, 4], "reverse": true, "nice": false, "zero": false}, "axis": null},
                "text": {"field": "credit"}
              }
            },
            {
              "transform": [{"filter": "isValid(datum.caption)"}],
              "mark": {"type": "text", "font": "Liberation Serif", "fontSize": 74, "fontWeight": "bold", "align": "center", "baseline": "middle", "dy": -12, "color": "black"},
              "encoding": {
                "x": {"datum": 9.46, "type": "quantitative", "scale": {"domain": [0, 20], "nice": false, "zero": false}, "axis": null},
                "y": {"field": "line", "type": "quantitative", "scale": {"domain": [0, 4], "reverse": true, "nice": false, "zero": false}, "axis": null},
                "text": {"field": "caption"}
              }
            }
          ]
        }
      ]
    }
  ]
}
